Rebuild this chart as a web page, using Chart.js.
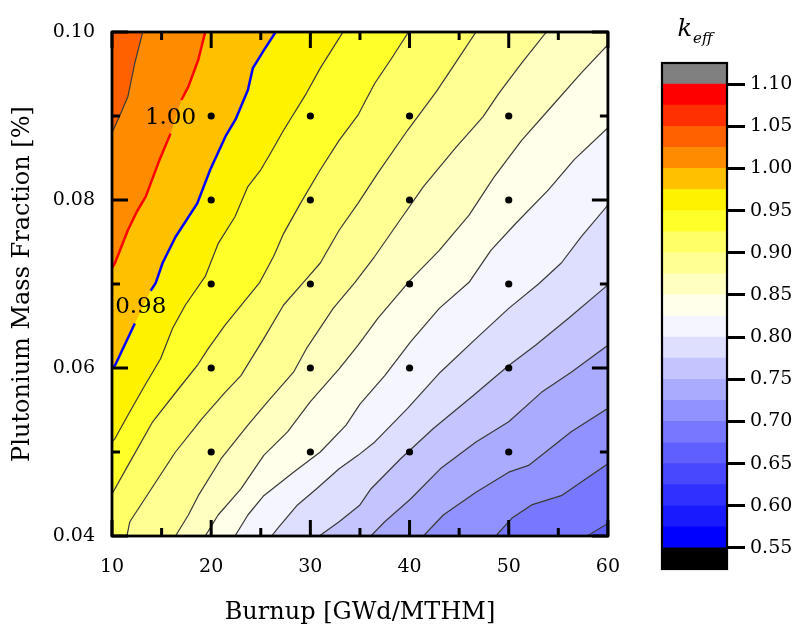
<!DOCTYPE html>
<html>
<head>
<meta charset="utf-8">
<title>k-eff map: burnup vs plutonium mass fraction</title>
<script src="https://cdn.jsdelivr.net/npm/chart.js@4.4.1/dist/chart.umd.min.js"></script>
<style>
  html, body { margin: 0; padding: 0; background: #fff; }
  #wrap { position: relative; width: 796px; height: 631px; }
  #mainBox { position: absolute; left: 0; top: 0; width: 640px; height: 631px; }
  #barBox { position: absolute; left: 640px; top: 0; width: 156px; height: 631px; }
</style>
</head>
<body>
<div id="wrap">
  <div id="mainBox"><canvas id="contourChart"></canvas></div>
  <div id="barBox"><canvas id="colorbarChart"></canvas></div>
</div>
<script>
// ===========================
// AXES
// ===========================
const BURNUP_RANGE = [10, 60];      // GWd/MTHM
const PU_RANGE = [0.04, 0.10];      // %
const BURNUP_TICKS = [10, 20, 30, 40, 50, 60];
const BURNUP_MINOR = [15, 25, 35, 45, 55];
const PU_TICKS = [0.04, 0.06, 0.08, 0.10];
const PU_MINOR = [0.05, 0.07, 0.09];

// calculated cases (black dots)
const CASE_BURNUP = [20, 30, 40, 50];
const CASE_PU = [0.05, 0.06, 0.07, 0.08, 0.09];

// ===========================
// ISO-KEFF LINES  [burnup, Pu fraction], highest level first
// ===========================
const LEVELS = [1.025, 1.00, 0.98, 0.95, 0.925, 0.90, 0.875, 0.85, 0.825, 0.80, 0.775, 0.75, 0.725, 0.70, 0.675];

const C_1025 = [[13.1, 0.100], [12.3, 0.0963], [11.6, 0.0923], [10.8, 0.0901], [10.0, 0.0880]];
const C_1000 = [[19.4, 0.100], [18.7, 0.0967], [17.7, 0.0935], [17.0, 0.0919], [15.9, 0.0879], [14.8, 0.0848],
  [13.4, 0.0804], [12.5, 0.0786], [11.6, 0.0764], [10.3, 0.0725], [10.0, 0.0719]];
const C_0980 = [[26.5, 0.100], [25.35, 0.0979], [24.2, 0.0957], [23.7, 0.0931], [22.5, 0.0897], [21.5, 0.0877],
  [19.9, 0.0836], [18.6, 0.0796], [16.4, 0.0756], [15.1, 0.0725], [14.4, 0.0701], [13.9, 0.0692],
  [12.3, 0.0653], [10.3, 0.0603], [10.0, 0.0601]];
const C_0950 = [[33.3, 0.100], [32.6, 0.0987], [31.0, 0.0957], [29.6, 0.0927], [27.3, 0.0883], [26.0, 0.0856],
  [25.0, 0.0836], [23.7, 0.0816], [22.4, 0.0780], [20.7, 0.0748], [19.4, 0.0709], [17.4, 0.0675],
  [16.1, 0.0647], [14.9, 0.0611], [13.1, 0.0575], [11.8, 0.0548], [10.3, 0.0516], [10.0, 0.0512]];
const C_0925 = [[39.9, 0.100], [38.1, 0.0967], [36.5, 0.0939], [35.6, 0.0919], [34.8, 0.0901], [32.9, 0.0871],
  [31.0, 0.0836], [29.0, 0.0796], [27.3, 0.0760], [26.3, 0.0733], [24.9, 0.0702], [21.4, 0.0651],
  [19.7, 0.0623], [18.6, 0.0603], [16.7, 0.0575], [14.1, 0.0536], [11.8, 0.0488], [10.0, 0.0450]];
const C_0900 = [[46.7, 0.100], [44.4, 0.0959], [42.7, 0.0929], [39.8, 0.0883], [36.8, 0.0832], [34.8, 0.0796],
  [32.9, 0.0764], [31.0, 0.0725], [29.3, 0.0702], [27.3, 0.0675], [25.3, 0.0635], [23.0, 0.0591],
  [21.4, 0.0571], [19.1, 0.0540], [16.4, 0.0500], [14.4, 0.0464], [11.8, 0.0417], [11.5, 0.0400]];
const C_0875 = [[53.8, 0.100], [51.3, 0.0963], [49.0, 0.0927], [47.4, 0.0899], [44.7, 0.0863], [41.4, 0.0816],
  [38.8, 0.0772], [36.5, 0.0733], [34.5, 0.0702], [32.3, 0.0671], [29.6, 0.0623], [28.3, 0.0595],
  [25.7, 0.0560], [23.7, 0.0532], [21.0, 0.0492], [18.7, 0.0448], [17.7, 0.0425], [16.4, 0.0400]];
const C_0850 = [[60.0, 0.0985], [57.3, 0.0951], [54.3, 0.0911], [51.3, 0.0871], [48.5, 0.0827], [46.0, 0.0782],
  [43.0, 0.0740], [40.1, 0.0705], [36.8, 0.0659], [34.8, 0.0627], [32.9, 0.0599], [30.0, 0.0560],
  [27.7, 0.0524], [25.3, 0.0496], [23.0, 0.0456], [20.7, 0.0425], [19.4, 0.0400]];
const C_0825 = [[60.0, 0.0886], [56.6, 0.0848], [54.0, 0.0812], [50.7, 0.0772], [48.2, 0.0740], [46.0, 0.0702],
  [43.0, 0.0671], [40.1, 0.0631], [37.5, 0.0591], [35.0, 0.0557], [33.6, 0.0532], [31.0, 0.0500],
  [28.3, 0.0476], [25.3, 0.0448], [23.7, 0.0425], [22.4, 0.0400]];
const C_0800 = [[60.0, 0.0794], [57.3, 0.0756], [55.3, 0.0725], [53.0, 0.0700], [50.0, 0.0671], [46.7, 0.0635],
  [43.1, 0.0595], [39.8, 0.0552], [36.5, 0.0512], [34.8, 0.0496], [32.9, 0.0480], [30.6, 0.0456],
  [28.7, 0.0437], [26.7, 0.0409], [26.1, 0.0400]];
const C_0775 = [[60.0, 0.0699], [56.0, 0.0659], [52.7, 0.0627], [50.0, 0.0603], [46.4, 0.0567], [42.4, 0.0528],
  [39.1, 0.0492], [36.1, 0.0456], [35.0, 0.0437], [32.9, 0.0417], [30.9, 0.0400]];
const C_0750 = [[60.0, 0.0627], [56.3, 0.0595], [53.3, 0.0571], [50.0, 0.0536], [46.7, 0.0512], [43.1, 0.0480],
  [40.1, 0.0444], [37.5, 0.0417], [36.1, 0.0400]];
const C_0725 = [[60.0, 0.0552], [56.3, 0.0524], [52.0, 0.0484], [50.0, 0.0476], [46.7, 0.0452], [43.4, 0.0425],
  [41.4, 0.0400]];
const C_0700 = [[60.0, 0.0486], [55.3, 0.0448], [52.3, 0.0437], [50.3, 0.0421], [48.7, 0.0400]];
const C_0675 = [[60.0, 0.0415], [57.9, 0.0400]];

const CONTOURS = [C_1025, C_1000, C_0980, C_0950, C_0925, C_0900, C_0875, C_0850,
  C_0825, C_0800, C_0775, C_0750, C_0725, C_0700, C_0675];

// labelled lines: the stroke is broken after point `gapAfter` to make room for the text
const CONTOUR_LABELS = [
  { level: 1.00, at: [15.9, 0.0898], gapAfter: 3, color: '#ff0000' },
  { level: 0.98, at: [12.9, 0.0673], gapAfter: 11, color: '#0000ff' }
];

// ===========================
// COLOUR SCALE (0.025 wide bands)
// ===========================
const KEFF_EDGES = [0.525, 0.55, 0.575, 0.60, 0.625, 0.65, 0.675, 0.70, 0.725, 0.75, 0.775, 0.80, 0.825,
  0.85, 0.875, 0.90, 0.925, 0.95, 0.975, 1.00, 1.025, 1.05, 1.075, 1.10, 1.125];
const KEFF_COLORS = ['#000000', '#0000ff', '#1a1aff', '#3131ff', '#4848ff', '#5f5fff', '#7878ff', '#9191ff',
  '#aaaaff', '#c4c4ff', '#dedeff', '#f5f5ff', '#ffffea', '#ffffc0', '#ffff94', '#ffff66', '#ffff2a',
  '#fff200', '#ffc000', '#ff8c00', '#ff6000', '#ff3000', '#ff0000', '#808080'];
const KEFF_TICKS = [0.55, 0.60, 0.65, 0.70, 0.75, 0.80, 0.85, 0.90, 0.95, 1.00, 1.05, 1.10];

Chart.defaults.font.family = "'DejaVu Serif', serif";
Chart.defaults.color = '#000';

const bandIndex = level => KEFF_EDGES.findIndex((e, i) => level >= e - 1e-9 && level < KEFF_EDGES[i + 1] - 1e-9);

// closes an iso-line with the plot corners on its high-keff (upper left) side
function regionAbove(line) {
  const [x0, x1] = BURNUP_RANGE;
  const [y0, y1] = PU_RANGE;
  const pts = line.map(([x, y]) => ({ x, y }));
  const first = line[0];
  const last = line[line.length - 1];
  if (last[1] <= y0) pts.push({ x: x0, y: y0 });
  pts.push({ x: x0, y: y1 });
  if (first[0] >= x1) pts.push({ x: x1, y: y1 });
  return pts;
}

function linePoints(k) {
  const pts = CONTOURS[k].map(([x, y]) => ({ x, y }));
  const lab = CONTOUR_LABELS.find(l => l.level === LEVELS[k]);
  if (lab) pts.splice(lab.gapAfter + 1, 0, { x: null, y: null });
  return pts;
}

// ===========================
// DATASETS
// ===========================
const datasets = [];

// band under the lowest line fills the whole plot area
const [bx0, bx1] = BURNUP_RANGE;
const [by0, by1] = PU_RANGE;
datasets.push({
  data: [{ x: bx0, y: by0 }, { x: bx1, y: by0 }, { x: bx1, y: by1 }, { x: bx0, y: by1 }],
  showLine: true, fill: 'shape', borderWidth: 0, pointRadius: 0,
  backgroundColor: KEFF_COLORS[bandIndex(LEVELS[LEVELS.length - 1]) - 1],
  order: 100
});

LEVELS.forEach((level, k) => {
  datasets.push({
    data: regionAbove(CONTOURS[k]),
    showLine: true, fill: 'shape', borderWidth: 0, pointRadius: 0,
    backgroundColor: KEFF_COLORS[bandIndex(level)],
    order: 50 + k
  });
});

LEVELS.forEach((level, k) => {
  const lab = CONTOUR_LABELS.find(l => l.level === level);
  datasets.push({
    data: linePoints(k),
    showLine: true, fill: false, pointRadius: 0,
    borderColor: lab ? lab.color : '#3a3a3a',
    borderWidth: lab ? 2.5 : 1.2,
    borderJoinStyle: 'round',
    order: 10
  });
});

const cases = [];
CASE_BURNUP.forEach(b => CASE_PU.forEach(p => cases.push({ x: b, y: p })));
datasets.push({
  data: cases, showLine: false, pointRadius: 3.6, pointBackgroundColor: '#000', pointBorderWidth: 0, order: 0
});

// ===========================
// PLUGINS
// ===========================
// inward ticks on all four sides + black frame
const frameTicks = {
  id: 'frameTicks',
  afterDraw(chart) {
    const { ctx, chartArea: a, scales: { x, y } } = chart;
    ctx.save();
    ctx.strokeStyle = '#000';
    ctx.lineWidth = 3;
    const seg = (x1, y1, x2, y2) => { ctx.beginPath(); ctx.moveTo(x1, y1); ctx.lineTo(x2, y2); ctx.stroke(); };
    const xTicks = (vals, len) => vals.forEach(v => {
      const px = x.getPixelForValue(v);
      seg(px, a.bottom, px, a.bottom - len);
      seg(px, a.top, px, a.top + len);
    });
    const yTicks = (vals, len) => vals.forEach(v => {
      const py = y.getPixelForValue(v);
      seg(a.left, py, a.left + len, py);
      seg(a.right, py, a.right - len, py);
    });
    xTicks(BURNUP_TICKS, 16);
    xTicks(BURNUP_MINOR, 8);
    yTicks(PU_TICKS, 16);
    yTicks(PU_MINOR, 8);
    ctx.lineWidth = 2.8;
    ctx.strokeRect(a.left, a.top, a.width, a.height);
    ctx.restore();
  }
};

const contourLabels = {
  id: 'contourLabels',
  afterDatasetsDraw(chart) {
    const { ctx, scales: { x, y } } = chart;
    ctx.save();
    ctx.font = "23px 'DejaVu Serif', serif";
    ctx.fillStyle = '#000';
    ctx.textAlign = 'center';
    ctx.textBaseline = 'middle';
    CONTOUR_LABELS.forEach(l => {
      ctx.fillText(l.level.toFixed(2), x.getPixelForValue(l.at[0]), y.getPixelForValue(l.at[1]));
    });
    ctx.restore();
  }
};

// ===========================
// CONTOUR MAP
// ===========================
new Chart(document.getElementById('contourChart'), {
  type: 'scatter',
  data: { datasets },
  options: {
    responsive: true,
    maintainAspectRatio: false,
    animation: false,
    events: [],
    layout: { padding: { top: 32, right: 24, left: 0, bottom: 0 } },
    scales: {
      x: {
        type: 'linear', min: BURNUP_RANGE[0], max: BURNUP_RANGE[1],
        afterFit: s => { s.height = 95; },
        afterBuildTicks: s => { s.ticks = BURNUP_TICKS.map(v => ({ value: v })); },
        grid: { display: false, drawTicks: false },
        border: { display: false },
        ticks: { padding: 20, font: { size: 19 } },
        title: { display: true, text: 'Burnup [GWd/MTHM]', font: { size: 24 }, padding: { top: 0, bottom: 4 } }
      },
      y: {
        type: 'linear', min: PU_RANGE[0], max: PU_RANGE[1],
        afterFit: s => { s.width = 112; },
        afterBuildTicks: s => { s.ticks = PU_TICKS.map(v => ({ value: v })); },
        grid: { display: false, drawTicks: false },
        border: { display: false },
        ticks: { padding: 17, font: { size: 19 }, callback: v => v.toFixed(2) },
        title: { display: true, text: 'Plutonium Mass Fraction [%]', font: { size: 24 }, padding: { top: 8, bottom: 0 } }
      }
    },
    plugins: {
      legend: { display: false },
      tooltip: { enabled: false },
      filler: { propagate: false }
    }
  },
  plugins: [contourLabels, frameTicks]
});

// ===========================
// COLOUR BAR
// ===========================
const colorbarFrame = {
  id: 'colorbarFrame',
  afterDraw(chart) {
    const { ctx, chartArea: a } = chart;
    ctx.save();
    ctx.strokeStyle = '#000';
    ctx.lineWidth = 2.2;
    ctx.strokeRect(a.left, a.top, a.width, a.height);
    // k_eff heading, italic with subscript
    const cx = (a.left + a.right) / 2;
    ctx.fillStyle = '#000';
    ctx.textBaseline = 'alphabetic';
    ctx.font = "italic 24px 'DejaVu Serif', serif";
    const wk = ctx.measureText('k').width;
    ctx.font = "italic 15px 'DejaVu Serif', serif";
    const ws = ctx.measureText('eff').width;
    const x0 = cx - (wk + ws) / 2;
    ctx.font = "italic 24px 'DejaVu Serif', serif";
    ctx.fillText('k', x0, 36);
    ctx.font = "italic 15px 'DejaVu Serif', serif";
    ctx.fillText('eff', x0 + wk + 1, 43);
    ctx.restore();
  }
};

new Chart(document.getElementById('colorbarChart'), {
  type: 'bar',
  data: {
    labels: ['keff'],
    datasets: KEFF_COLORS.map((c, i) => ({
      data: [[KEFF_EDGES[i], KEFF_EDGES[i + 1]]],
      backgroundColor: c,
      borderWidth: 0,
      grouped: false,
      barPercentage: 1,
      categoryPercentage: 1
    }))
  },
  options: {
    responsive: true,
    maintainAspectRatio: false,
    animation: false,
    events: [],
    layout: { padding: { left: 22, top: 63, bottom: 62, right: 0 } },
    scales: {
      x: { display: false },
      y: {
        position: 'right',
        min: KEFF_EDGES[0], max: KEFF_EDGES[KEFF_EDGES.length - 1],
        afterFit: s => { s.width = 69; },
        afterBuildTicks: s => { s.ticks = KEFF_TICKS.map(v => ({ value: v })); },
        grid: { drawOnChartArea: false, drawTicks: true, tickLength: 18, tickWidth: 3, tickColor: '#000' },
        border: { display: false },
        ticks: { padding: 5, font: { size: 19 }, callback: v => v.toFixed(2) }
      }
    },
    plugins: { legend: { display: false }, tooltip: { enabled: false } }
  },
  plugins: [colorbarFrame]
});
</script>
</body>
</html>
